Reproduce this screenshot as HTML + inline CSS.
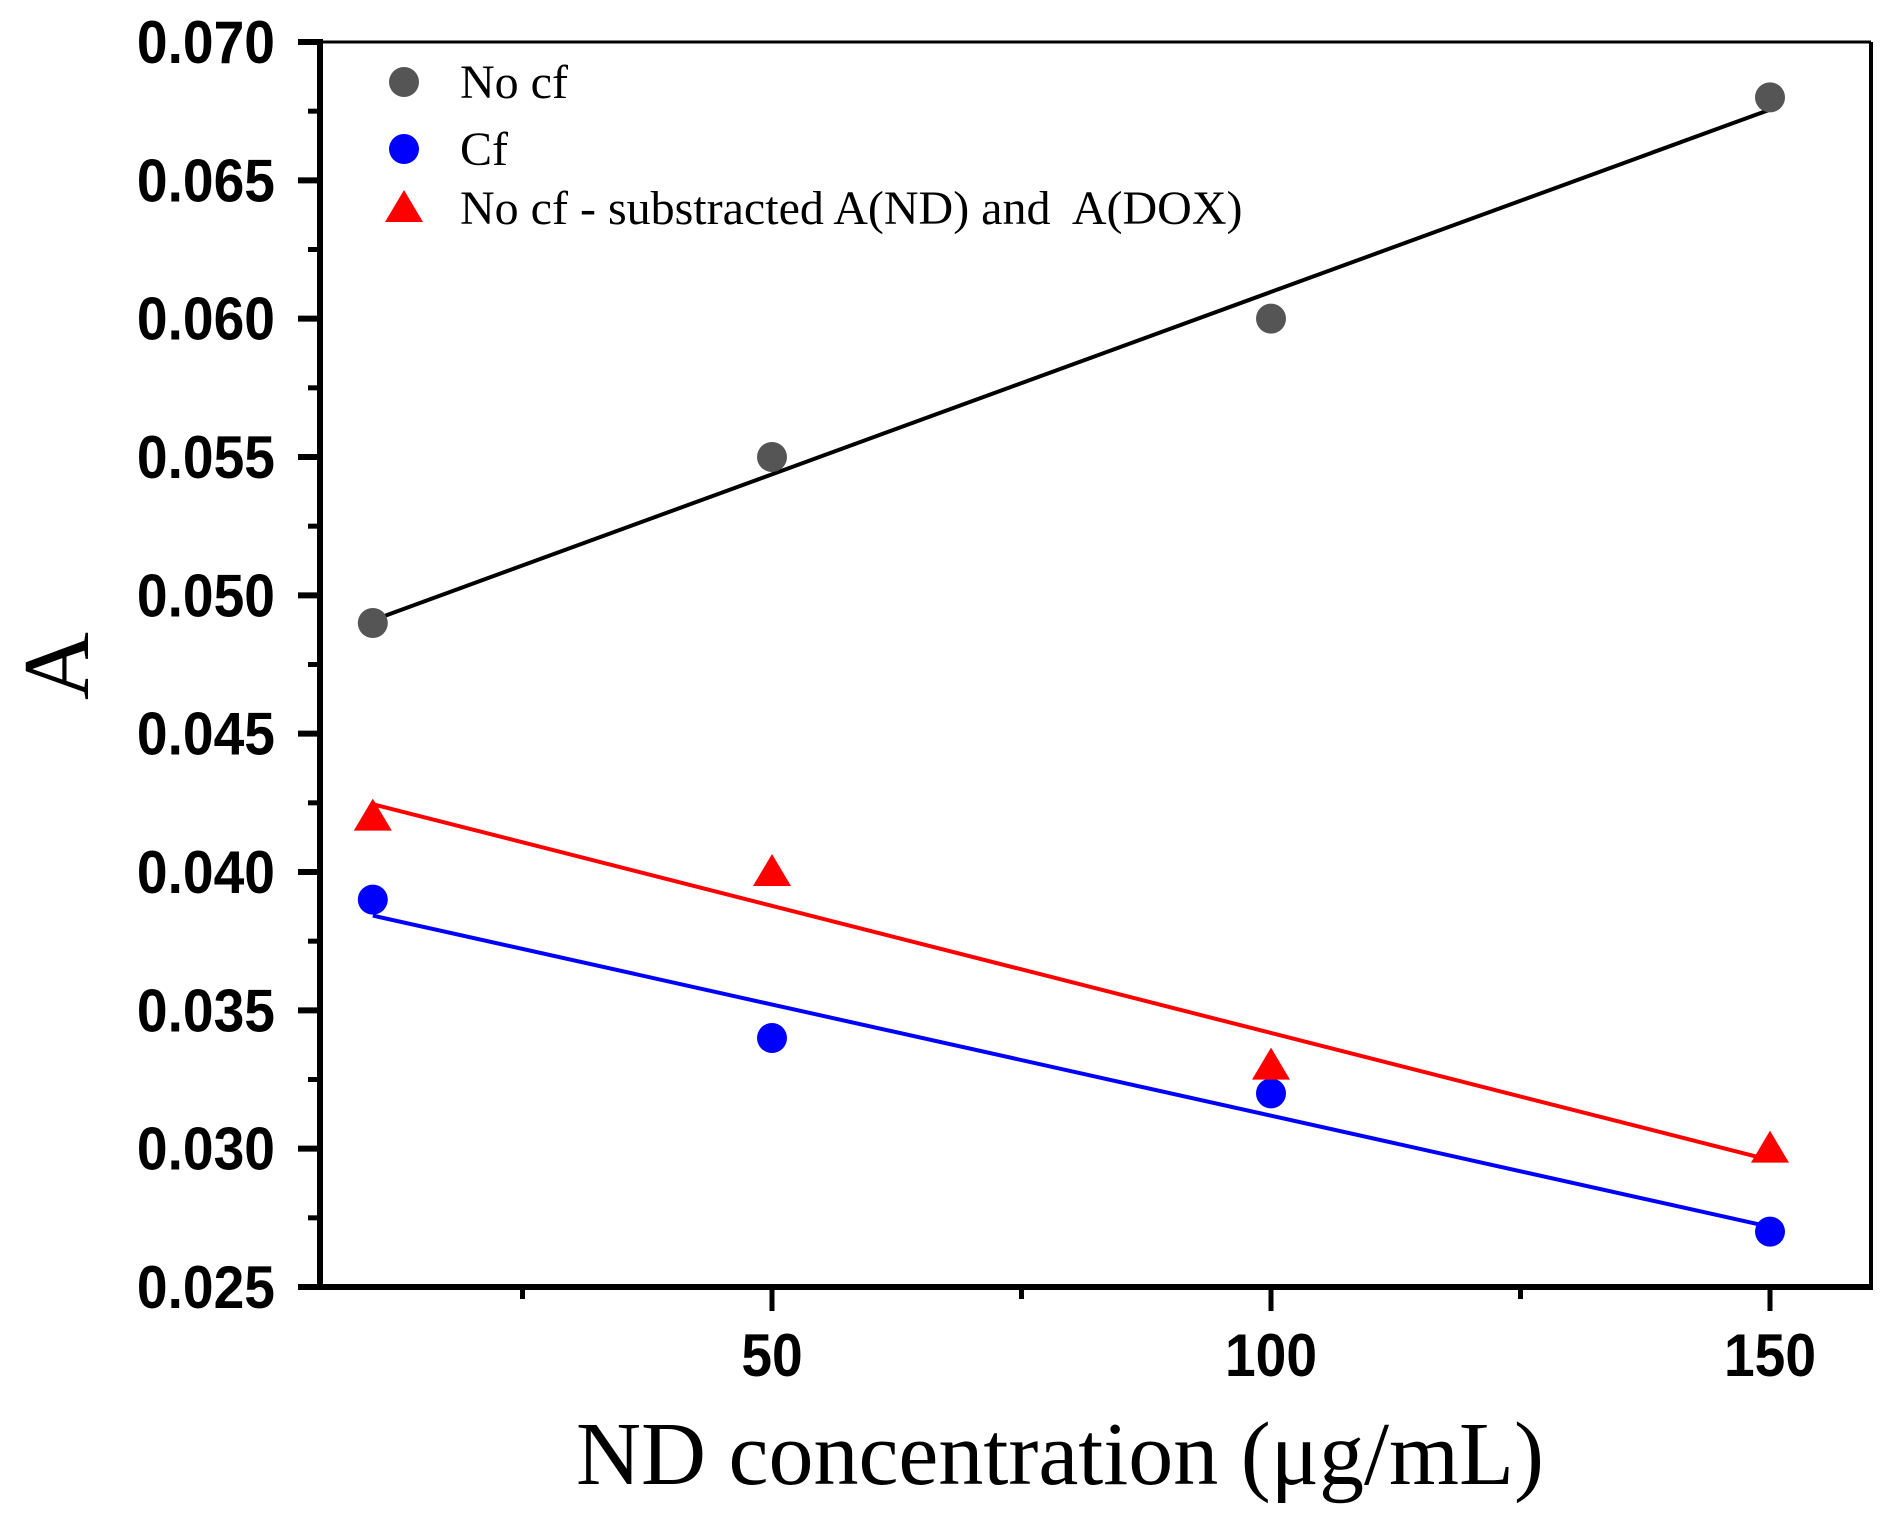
<!DOCTYPE html>
<html><head><meta charset="utf-8"><style>
html,body{margin:0;padding:0;background:#fff;}
svg{display:block;}
text{white-space:pre;}
</style></head><body>
<svg id="chart" width="1899" height="1531" viewBox="0 0 1899 1531" xmlns="http://www.w3.org/2000/svg">
<rect x="0" y="0" width="1899" height="1531" fill="#fff"/>
<g id="plot"></g>
</svg>
<script>
const xValues = [10, 50, 100, 150];
const noCfValues = [0.049, 0.055, 0.060, 0.068];
const cfValues = [0.039, 0.034, 0.032, 0.027];
const subtractedValues = [0.042, 0.040, 0.033, 0.030];
const yTickLabels = ["0.025","0.030","0.035","0.040","0.045","0.050","0.055","0.060","0.065","0.070"];
const xTickLabels = ["50","100","150"];
const xMinorTicks = [25, 75, 125];

const NS = "http://www.w3.org/2000/svg";
const g = document.getElementById('plot');
const L = 320, R = 1871, T = 42, B = 1287;
const yMin = 0.025, yMax = 0.070;
function xs(v){ return 772 + (v - 50) * 9.98; }
function ys(v){ return B - (v - yMin) / (yMax - yMin) * (B - T); }
function mk(tag, attrs){ const e = document.createElementNS(NS, tag); for (const k in attrs) e.setAttribute(k, attrs[k]); g.appendChild(e); return e; }

let e;
e = mk('line',{x1:L,y1:T,x2:R,y2:T,stroke:'#000','stroke-width':3});
 
e = mk('line',{x1:R,y1:T,x2:R,y2:B,stroke:'#000','stroke-width':4});
 
e = mk('line',{x1:L,y1:T-3,x2:L,y2:B+3,stroke:'#000','stroke-width':6});
 
e = mk('line',{x1:L-22,y1:B,x2:R+2,y2:B,stroke:'#000','stroke-width':6});
 

yTickLabels.forEach((lab) => {
  const v = parseFloat(lab); const y = ys(v);
  const t = mk('line',{x1:L-22,y1:y,x2:L,y2:y,stroke:'#000','stroke-width':6});
   
  const tx = mk('text',{x:0,y:0,'text-anchor':'end','font-family':'Liberation Sans, sans-serif','font-weight':'bold','font-size':60,fill:'#000',transform:`translate(275,${y+21}) scale(0.92,1)`});
  tx.textContent = lab;
   
  if (v < yMax - 1e-9) {
    const mv = v + 0.0025;
    const m = mk('line',{x1:L-12,y1:ys(mv),x2:L,y2:ys(mv),stroke:'#000','stroke-width':5});
     
  }
});
xTickLabels.forEach((lab) => {
  const x = xs(parseFloat(lab));
  const t = mk('line',{x1:x,y1:B,x2:x,y2:B+24,stroke:'#000','stroke-width':5});
   
  const tx = mk('text',{x:0,y:0,'text-anchor':'middle','font-family':'Liberation Sans, sans-serif','font-weight':'bold','font-size':60,fill:'#000',transform:`translate(${x},1376) scale(0.92,1)`});
  tx.textContent = lab;
   
});
xMinorTicks.forEach((v) => {
  const x = xs(v);
  const t = mk('line',{x1:x,y1:B,x2:x,y2:B+12,stroke:'#000','stroke-width':5});
   
});

e = mk('text',{x:1060,y:1484,'text-anchor':'middle','font-family':'Liberation Serif, serif','font-size':90,fill:'#000'});
e.textContent = 'ND concentration (μg/mL)';
 
e = mk('text',{x:0,y:0,'text-anchor':'middle','font-family':'Liberation Serif, serif','font-size':94,fill:'#000',transform:'translate(88,666) rotate(-90)'});
e.textContent = 'A';
 

function fit(ys_){
  const n = xValues.length; const mx = xValues.reduce((a,b)=>a+b)/n; const my = ys_.reduce((a,b)=>a+b)/n;
  let sxy=0,sxx=0; for(let i=0;i<n;i++){ sxy+=(xValues[i]-mx)*(ys_[i]-my); sxx+=(xValues[i]-mx)**2; }
  const s = sxy/sxx; return [s, my - s*mx];
}
function series(vals, color, lineColor, shape, name){
  const [s,b] = fit(vals);
  const x0 = xValues[0], x1 = xValues[xValues.length-1];
  const ln = mk('line',{x1:xs(x0),y1:ys(s*x0+b),x2:xs(x1),y2:ys(s*x1+b),stroke:lineColor,'stroke-width':4});
   
  vals.forEach((v,i) => {
    const cx = xs(xValues[i]), cy = ys(v);
    let p;
    if (shape === 'circle') p = mk('circle',{cx:cx,cy:cy,r:15,fill:color});
    else p = mk('polygon',{points:`${cx},${cy-18} ${cx+19},${cy+14} ${cx-19},${cy+14}`,fill:color});
     
  });
}
series(noCfValues, '#555555', '#000', 'circle', 'no-cf');
series(cfValues, '#0000ff', '#0000ff', 'circle', 'cf');
series(subtractedValues, '#ff0000', '#ff0000', 'triangle', 'subtracted');

const legendItems = [['No cf','#555555','circle',82],['Cf','#0000ff','circle',149],['No cf - substracted A(ND) and  A(DOX)','#ff0000','triangle',208]];
legendItems.forEach(([lab,col,shape,y]) => {
  let m;
  if (shape==='circle') m = mk('circle',{cx:404,cy:y,r:15,fill:col});
  else m = mk('polygon',{points:`404,${y-18} 423,${y+14} 385,${y+14}`,fill:col});
   
  const t = mk('text',{x:460,y:y+16,'font-family':'Liberation Serif, serif','font-size':48,fill:'#000'});
  t.textContent = lab;
   
});
</script>
</body></html>
